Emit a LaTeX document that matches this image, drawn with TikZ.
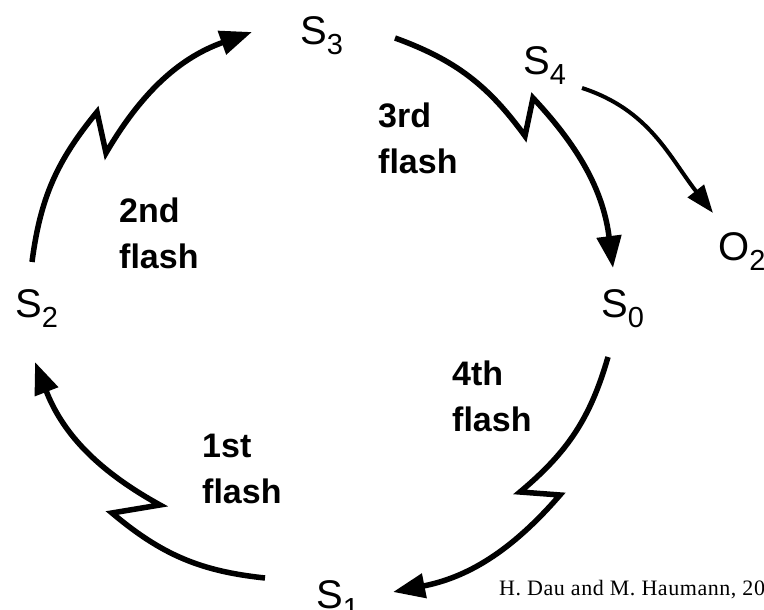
\documentclass[tikz,border=0pt]{standalone}
\usepackage{fontspec}
\setmainfont{Liberation Sans}
\newfontfamily\creditfont[LetterSpace=2.5]{Liberation Serif}
\usetikzlibrary{arrows.meta}
\newcommand{\statelabel}[2]{#1\raisebox{-10pt}{\fontsize{29}{29}\selectfont #2}}

\begin{document}
\begin{tikzpicture}[x=1pt, y=1pt,
  state/.style={inner sep=0pt, anchor=base west,
    font=\fontsize{40}{40}\selectfont},
  flashlabel/.style={inner sep=0pt, anchor=north west, align=left,
    font=\fontsize{34}{46}\selectfont\bfseries},
  cyclearrow/.style={line width=5.5pt,
    -{Triangle[length=32pt,width=24pt]}},
  release/.style={line width=4pt,
    -{Triangle[length=28pt,width=20pt]}}]
  \useasboundingbox (0,0) rectangle (764,610);
  \clip (0,0) rectangle (764,610);

  % S-states of the cycle
  \node[state] (S3) at (300,565) {\statelabel{S}{3}};
  \node[state] (S4) at (523,535) {\statelabel{S}{4}};
  \node[state] (S0) at (601,292) {\statelabel{S}{0}};
  \node[state] (S1) at (316,1)   {\statelabel{S}{1}};
  \node[state] (S2) at (15,292)  {\statelabel{S}{2}};
  \node[state] (O2) at (718,349) {\statelabel{O}{2}};

  \node[flashlabel] (flash3) at (378,507) {3rd\\flash};
  \node[flashlabel] (flash2) at (119,412) {2nd\\flash};
  \node[flashlabel] (flash4) at (452,249) {4th\\flash};
  \node[flashlabel] (flash1) at (202,176) {1st\\flash};

  \node[inner sep=0pt, anchor=base west,
    font=\creditfont\fontsize{22}{22}\selectfont] (credit) at (499,14)
    {H. Dau and M. Haumann, 2008};

  % Ends and zig-zag corners of the flash arrows
  \coordinate (a2s) at (32,348);  \coordinate (a2p) at (97,498);
  \coordinate (a2q) at (106,457); \coordinate (a2e) at (252,578);
  \coordinate (a3s) at (395,572); \coordinate (a3p) at (525,474);
  \coordinate (a3q) at (533,512); \coordinate (a3e) at (613,342);
  \coordinate (a4s) at (608,253); \coordinate (a4p) at (520,118);
  \coordinate (a4q) at (560,115); \coordinate (a4e) at (393,18);
  \coordinate (a1s) at (265,32);  \coordinate (a1p) at (112,97);
  \coordinate (a1q) at (160,105); \coordinate (a1e) at (35,248);
  \coordinate (o2s) at (582,522); \coordinate (o2e) at (713,397);

  \draw[cyclearrow] (a2s) to[bend left=16] (a2p) -- (a2q)
    to[bend left=20] (a2e);
  \draw[cyclearrow] (a3s) to[bend left=17] (a3p) -- (a3q)
    to[bend left=18] (a3e);
  \draw[cyclearrow] (a4s) to[bend left=17] (a4p) -- (a4q)
    to[bend left=19] (a4e);
  \draw[cyclearrow] (a1s) to[bend left=17] (a1p) -- (a1q)
    to[bend left=20] (a1e);

  \draw[release] (o2s) to[out=-18,in=128] (o2e);
\end{tikzpicture}
\end{document}
